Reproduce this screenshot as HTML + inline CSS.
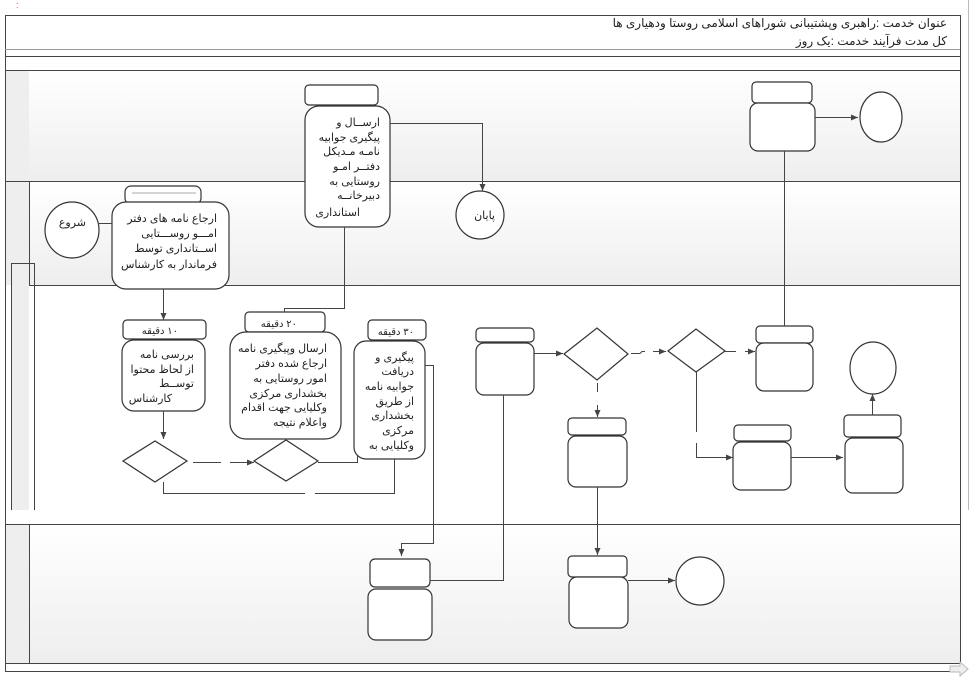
<!DOCTYPE html>
<html><head><meta charset="utf-8"><style>
body{margin:0;background:#fff}
svg text{font-family:"Liberation Sans","DejaVu Sans",sans-serif;font-size:12px;fill:#222}
.b text{font-size:11px}
</style></head><body>
<svg width="980" height="682" viewBox="0 0 980 682" xmlns="http://www.w3.org/2000/svg">
<defs>
<linearGradient id="g" x1="0" y1="0" x2="0" y2="1"><stop offset="0" stop-color="#fff"/><stop offset="1" stop-color="#eee"/></linearGradient>
<marker id="a" markerWidth="8" markerHeight="8" refX="7" refY="4" orient="auto" markerUnits="userSpaceOnUse"><path d="M0,1 L7,4 L0,7z" fill="#444"/></marker>
</defs>
<text x="16" y="8" style="font-size:9px;fill:#e04080">:</text>
<rect x="5" y="70" width="955" height="111" fill="url(#g)"/>
<rect x="5" y="181" width="955" height="104" fill="url(#g)"/>
<rect x="5" y="524" width="955" height="139" fill="url(#g)"/>
<rect x="5" y="70" width="24" height="215" fill="#eee"/>
<rect x="5" y="524" width="24" height="139" fill="#eee"/>
<rect x="11" y="285" width="18" height="225" fill="#eee"/>
<g fill="none" stroke="#444" stroke-width="1">
<rect x="5.5" y="15.5" width="955" height="656"/>
<line x1="5" y1="49.5" x2="960" y2="49.5" stroke="#999"/>
<line x1="5" y1="56.5" x2="960" y2="56.5"/>
<line x1="5" y1="70.5" x2="960" y2="70.5"/>
<line x1="5" y1="181.5" x2="960" y2="181.5"/>
<line x1="29" y1="285.5" x2="960" y2="285.5"/>
<line x1="29.5" y1="181" x2="29.5" y2="285"/>
<line x1="5" y1="524.5" x2="960" y2="524.5"/>
<line x1="29.5" y1="524" x2="29.5" y2="663"/>
<line x1="5" y1="663.5" x2="960" y2="663.5"/>
<polyline points="11.5,510 11.5,263.5 34.5,263.5 34.5,510"/>
<line x1="968.5" y1="0" x2="968.5" y2="510" stroke="#bbb"/>
</g>
<g direction="rtl" text-anchor="start">
<text x="947" y="27">عنوان خدمت :راهبری وپشتیبانی شوراهای اسلامی روستا ودهیاری ها</text>
<text x="947" y="45">کل مدت فرآیند خدمت :یک روز</text>
</g>
<g fill="#fff" stroke="#333" stroke-width="1.2">
<ellipse cx="72" cy="230" rx="27" ry="28"/>
<rect x="125" y="186" width="76" height="18" rx="6"/>
<rect x="112" y="202" width="117" height="87" rx="14"/>
<rect x="123" y="320" width="83" height="19" rx="4"/>
<rect x="122" y="340" width="83" height="71" rx="12"/>
<path d="M123,461 L155,441 L187,461 L155,482z"/>
<path d="M254,461 L286,440 L318,461 L286,481z"/>
<rect x="245" y="312" width="80" height="20" rx="4"/>
<rect x="230" y="332" width="111" height="107" rx="16"/>
<rect x="305" y="85" width="73" height="20" rx="4"/>
<rect x="305" y="106" width="85" height="121" rx="14"/>
<ellipse cx="480" cy="215" rx="24" ry="24"/>
<rect x="368" y="320" width="58" height="20" rx="4"/>
<rect x="354" y="341" width="71" height="118" rx="12"/>
<rect x="370" y="559" width="60" height="28" rx="5"/>
<rect x="368" y="589" width="64" height="51" rx="8"/>
<rect x="476" y="328" width="58" height="14" rx="4"/>
<rect x="476" y="343" width="58" height="52" rx="8"/>
<path d="M564,354 L597,328 L628,354 L597,380z"/>
<path d="M668,351 L696,329 L725,351 L696,372z"/>
<rect x="756" y="326" width="57" height="17" rx="4"/>
<rect x="756" y="343" width="57" height="48" rx="8"/>
<rect x="752" y="82" width="60" height="21" rx="4"/>
<rect x="750" y="103" width="65" height="48" rx="8"/>
<ellipse cx="881" cy="117" rx="21" ry="25"/>
<rect x="734" y="425" width="57" height="16" rx="4"/>
<rect x="733" y="442" width="58" height="48" rx="8"/>
<rect x="844" y="415" width="57" height="22" rx="4"/>
<rect x="845" y="438" width="58" height="55" rx="8"/>
<ellipse cx="873" cy="368" rx="23" ry="26"/>
<rect x="568" y="418" width="58" height="17" rx="4"/>
<rect x="568" y="436" width="59" height="51" rx="8"/>
<rect x="568" y="556" width="59" height="21" rx="4"/>
<rect x="569" y="577" width="59" height="51" rx="8"/>
<ellipse cx="700" cy="581" rx="24" ry="24"/>
</g>
<line x1="132" y1="193" x2="196" y2="193" stroke="#aaa"/>
<g fill="none" stroke="#444" stroke-width="1">
<line x1="99" y1="223.5" x2="112" y2="223.5"/>
<line x1="163.5" y1="289" x2="163.5" y2="320" marker-end="url(#a)"/>
<line x1="163.5" y1="411" x2="163.5" y2="439" marker-end="url(#a)"/>
<path d="M193,462.5 H221 M230,462.5 H254" marker-end="url(#a)"/>
<polyline points="284.5,312 284.5,308.5 344.5,308.5 344.5,227"/>
<polyline points="390,123.5 482.5,123.5 482.5,191" marker-end="url(#a)"/>
<polyline points="318,462.5 357.5,462.5 357.5,456"/>
<polyline points="425,365.5 433.5,365.5 433.5,543.5 401.5,543.5 401.5,556" marker-end="url(#a)"/>
<path d="M394.5,459 V493.5 H315 M305,493.5 H163.5 V482"/>
<polyline points="430,580.5 503.5,580.5 503.5,395"/>
<line x1="534" y1="353.5" x2="563" y2="353.5" marker-end="url(#a)"/>
<path d="M631,353.5 H640 L642,351.5 H645 M653,351.5 H666" marker-end="url(#a)"/>
<path d="M725,351.5 H736 M745,351.5 H755" marker-end="url(#a)"/>
<line x1="784.5" y1="326" x2="784.5" y2="151"/>
<line x1="815" y1="117.5" x2="858" y2="117.5" marker-end="url(#a)"/>
<path d="M696.5,372 V432 M696.5,443 V457.5 H733" marker-end="url(#a)"/>
<line x1="791" y1="457.5" x2="843" y2="457.5" marker-end="url(#a)"/>
<line x1="872.5" y1="415" x2="872.5" y2="394" marker-end="url(#a)"/>
<path d="M597.5,383 V392 M597.5,405 V417" marker-end="url(#a)"/>
<line x1="597.5" y1="487" x2="597.5" y2="555" marker-end="url(#a)"/>
<line x1="628" y1="580.5" x2="675" y2="580.5" marker-end="url(#a)"/>
</g>
<g class="b" direction="rtl" text-anchor="start">
<text x="86" y="226">شروع</text>
<text x="217" y="222">ارجاع نامه های دفتر</text>
<text x="217" y="237">امـــو روســـتایی</text>
<text x="217" y="252">اســتانداری توسط</text>
<text x="217" y="268">فرماندار به کارشناس</text>
<text x="380" y="126">ارســال و</text>
<text x="380" y="141">پیگیری جوابیه</text>
<text x="380" y="155">نامـه مـدیکل</text>
<text x="380" y="170">دفتــر امـو</text>
<text x="380" y="185">روستایی به</text>
<text x="380" y="199">دبیرخانــه</text>
<text x="360" y="216">استانداری</text>
<text x="495" y="219">پایان</text>
<text x="178" y="334" style="font-size:10px">۱۰ دقیقه</text>
<text x="194" y="358">بررسی نامه</text>
<text x="194" y="373">از لحاظ محتوا</text>
<text x="194" y="387">توســط</text>
<text x="172" y="402">کارشناس</text>
<text x="297" y="327" style="font-size:10px">۲۰ دقیقه</text>
<text x="327" y="352">ارسال وپیگیری نامه</text>
<text x="327" y="367">ارجاع شده دفتر</text>
<text x="327" y="382">امور روستایی به</text>
<text x="327" y="397">بخشداری مرکزی</text>
<text x="327" y="411">وکلیایی جهت اقدام</text>
<text x="327" y="426">واعلام نتیجه</text>
<text x="414" y="335" style="font-size:10px">۳۰ دقیقه</text>
<text x="414" y="361">پیگیری و</text>
<text x="414" y="375">دریافت</text>
<text x="414" y="390">جوابیه نامه</text>
<text x="414" y="405">از طریق</text>
<text x="414" y="419">بخشداری</text>
<text x="414" y="434">مرکزی</text>
<text x="414" y="449">وکلیایی به</text>
</g>
<path d="M950,666 h10 v-4 l8,7 -8,7 v-4 h-10z" fill="#eee" stroke="#bbb"/>
</svg>
</body></html>
